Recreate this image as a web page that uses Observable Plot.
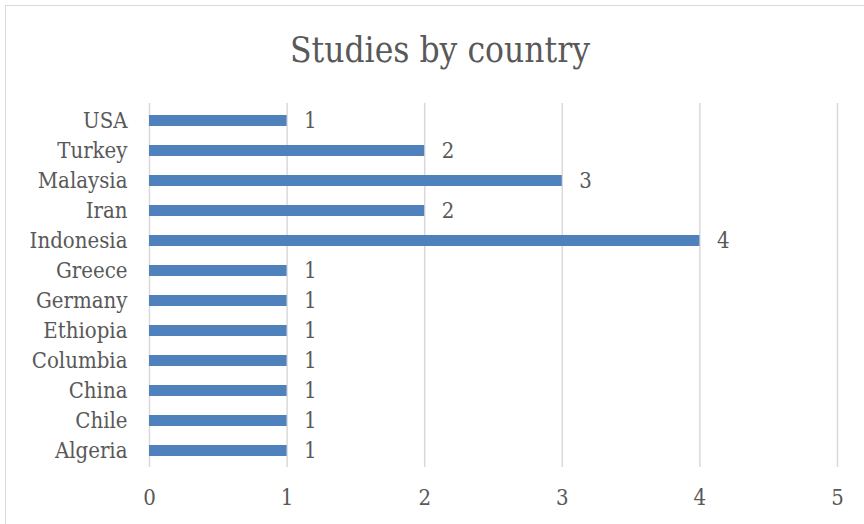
<!DOCTYPE html>
<html>
<head>
<meta charset="utf-8">
<script src="https://cdn.jsdelivr.net/npm/d3@7"></script>
<script src="https://cdn.jsdelivr.net/npm/@observablehq/plot@0.6"></script>
<style>
  body { margin: 0; background: #fff; }
  #wrap { position: relative; width: 864px; height: 524px; overflow: hidden; background: #fff; }
  #frame { position: absolute; left: 5px; top: 5px; width: 900px; height: 600px; border-left: 1.5px solid #d9d9d9; border-top: 1.5px solid #d9d9d9; }
  #title { position: absolute; left: 0; top: 0; width: 880px; height: 95px; text-align: center; font-family: "DejaVu Serif Condensed", "DejaVu Serif", serif; font-size: 35px; color: #595959; line-height: 100px; }
  #chart { position: absolute; left: 0; top: 95px; }
</style>
</head>
<body>
<div id="wrap">
  <div id="frame"></div>
  <div id="title">Studies by country</div>
  <div id="chart"></div>
</div>
<script>
const countries = ["USA", "Turkey", "Malaysia", "Iran", "Indonesia", "Greece", "Germany", "Ethiopia", "Columbia", "China", "Chile", "Algeria"];
const studies = [1, 2, 3, 2, 4, 1, 1, 1, 1, 1, 1, 1];
const xTicks = [0, 1, 2, 3, 4, 5];

const data = countries.map((c, i) => ({country: c, value: studies[i]}));

const chart = Plot.plot({
  width: 864,
  height: 429,
  marginLeft: 149,
  marginRight: 27,
  marginTop: 8,
  marginBottom: 57,
  style: { fontFamily: "'DejaVu Serif Condensed', 'DejaVu Serif', serif", fontSize: "22px", color: "#595959", background: "transparent" },
  x: { domain: [0, 5], ticks: xTicks, tickFormat: "d", tickSize: 0, tickPadding: 22, label: null },
  y: { domain: countries, paddingInner: 0.65, paddingOuter: 0.325, tickSize: 0, tickPadding: 22, label: null },
  marks: [
    Plot.gridX(xTicks, { stroke: "#d9d9d9", strokeOpacity: 1, strokeWidth: 1.5 }),
    Plot.barX(data, { x: "value", y: "country", fill: "#4f81bd" }),
    Plot.text(data, { x: "value", y: "country", text: d => String(d.value), textAnchor: "start", dx: 17, fill: "#595959", fontSize: 22 }),
    Plot.axisX({ ticks: xTicks, tickFormat: "d", tickSize: 0, tickPadding: 22, fill: "#595959", fontSize: 22 }),
    Plot.axisY({ tickSize: 0, tickPadding: 22, fill: "#595959", fontSize: 22 })
  ]
});
document.getElementById("chart").appendChild(chart);
</script>
</body>
</html>
